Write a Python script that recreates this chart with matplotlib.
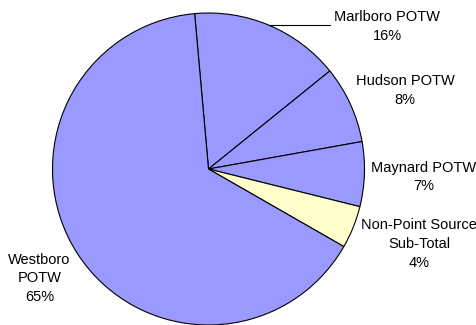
import numpy as np
import matplotlib
matplotlib.use("Agg")
import matplotlib.pyplot as plt

plt.rcParams['font.family'] = ['Liberation Sans', 'DejaVu Sans']

# Share of load by source (percent), clockwise from the top
sources = ["Marlboro POTW", "Hudson POTW", "Maynard POTW",
           "Non-Point Source\nSub-Total", "Westboro\nPOTW"]
shares = [15.6, 8.0, 6.7, 4.4, 65.3]
colors = ["#9999FF", "#9999FF", "#9999FF", "#FFFFCC", "#9999FF"]

W, H = 477, 325
fig = plt.figure(figsize=(W / 100, H / 100), dpi=100)
ax = fig.add_axes([0, 0, 1, 1])

cx, cy, r = 208.5, 156.0, 156.0
start = 95.1
wedges, _ = ax.pie(shares, colors=colors, startangle=start, counterclock=False,
                   center=(cx, cy), radius=r,
                   wedgeprops=dict(edgecolor="black", linewidth=0.8))
ax.set_xlim(0, W)
ax.set_ylim(0, H)
ax.set_aspect("equal")
ax.axis("off")

# Label placement (pixel coordinates, y up)
label_pos = [(387, 298.5), (405, 234.5), (424, 148), (419, 81), (39.5, 46.5)]
for name, val, (lx, ly) in zip(sources, shares, label_pos):
    ax.text(lx, ly, f"{name}\n{round(val):.0f}%", ha="center", va="center",
            fontsize=10.5, linespacing=1.42, color="black")

# Leader line for the first slice
w0 = wedges[0]
mid = np.deg2rad((w0.theta1 + w0.theta2) / 2)
ex, ey = cx + r * np.cos(mid), cy + r * np.sin(mid)
ax.plot([ex, 330], [ey, ey], color="black", linewidth=0.8)

fig.savefig("out.png", dpi=100)
